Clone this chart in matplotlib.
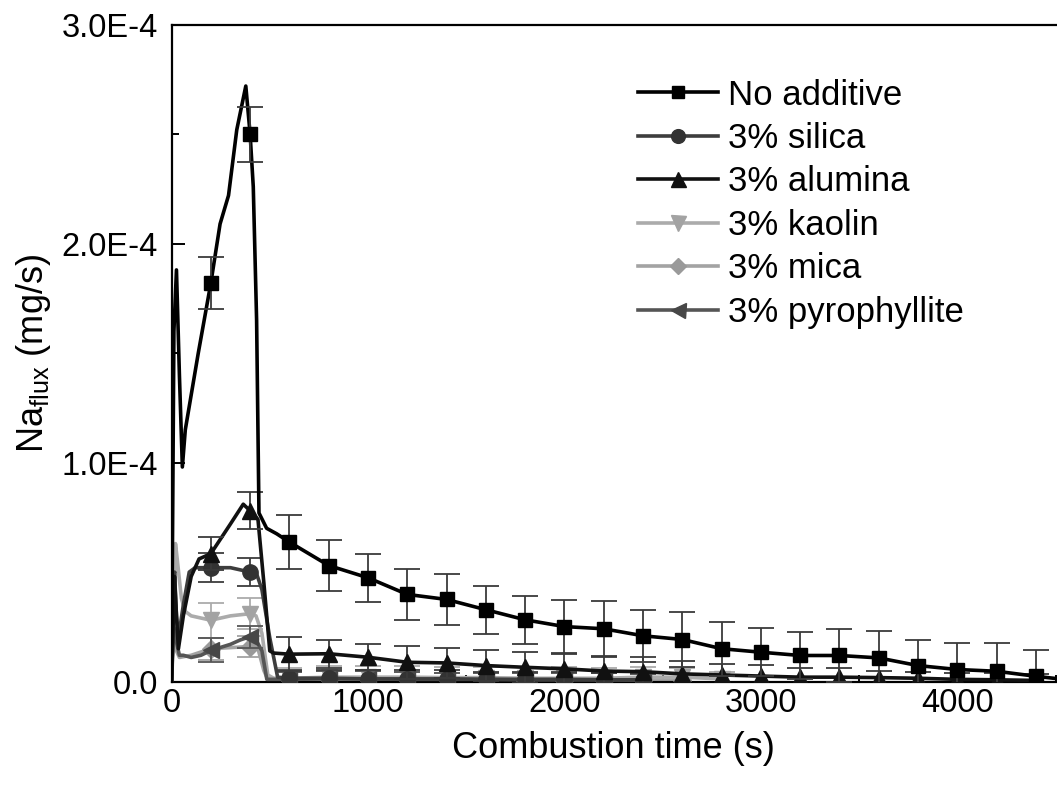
import matplotlib.pyplot as plt
from matplotlib.lines import Line2D
from matplotlib.ticker import MultipleLocator, FuncFormatter

plt.rcParams['font.family'] = ['Liberation Sans', 'DejaVu Sans']
plt.rcParams['mathtext.fontset'] = 'custom'
plt.rcParams['mathtext.rm'] = 'Liberation Sans'

# all fluxes in units of 1E-4 mg/s
# markers / error bars every 200 s
mark_t = list(range(200, 4600, 200))

# No additive: detailed start of the curve, then the 200 s points
noadd_t = [0, 12, 25, 40, 55, 70, 136, 200, 247, 290, 332, 378, 400, 416, 433, 445, 484, 535]
noadd_y = [0.0, 1.60, 1.88, 1.40, 0.98, 1.15, 1.50, 1.82, 2.09, 2.22, 2.52, 2.72, 2.50, 2.26, 1.65, 0.77, 0.70, 0.675]
noadd_m = [1.82, 2.50, 0.637, 0.53, 0.474, 0.398, 0.375, 0.328, 0.282, 0.251, 0.241,
           0.209, 0.192, 0.150, 0.134, 0.119, 0.119, 0.108, 0.073, 0.055, 0.047, 0.024]
noadd_e = [0.12, 0.125, 0.125, 0.115, 0.11, 0.115, 0.115, 0.11, 0.11, 0.12, 0.125,
           0.12, 0.125, 0.124, 0.11, 0.106, 0.119, 0.121, 0.119, 0.119, 0.127, 0.119]
noadd_tail_t = [4600]
noadd_tail_y = [0.004]

# 3% silica
sil_t = [0, 15, 25, 35, 60, 90, 120, 200, 300, 400, 430, 460, 500, 540]
sil_y = [0.0, 0.50, 0.30, 0.20, 0.35, 0.50, 0.52, 0.52, 0.52, 0.50, 0.50, 0.42, 0.20, 0.02]
sil_m = [0.52, 0.50, 0.015, 0.015, 0.012, 0.012, 0.012, 0.010, 0.010, 0.010, 0.008, 0.008]
sil_e = [0.065, 0.065, 0.04, 0.04, 0.04, 0.04, 0.04, 0.035, 0.035, 0.035, 0.03, 0.03]

# 3% alumina
alu_t = [0, 15, 25, 35, 60, 100, 140, 200, 300, 365, 400, 440, 470, 500, 520]
alu_y = [0.0, 0.48, 0.30, 0.15, 0.30, 0.48, 0.56, 0.584, 0.72, 0.81, 0.78, 0.74, 0.45, 0.14, 0.13]
alu_m = [0.584, 0.78, 0.125, 0.127, 0.111, 0.088, 0.085, 0.073, 0.065, 0.058, 0.048,
         0.045, 0.035, 0.030, 0.025, 0.020, 0.020, 0.018, 0.015, 0.010, 0.008, 0.005]
alu_e = [0.075, 0.085, 0.077, 0.065, 0.06, 0.075, 0.068, 0.07, 0.07, 0.07, 0.065,
         0.065, 0.06, 0.05, 0.05, 0.04, 0.04, 0.03, 0.03, 0.03, 0.03, 0.03]

# 3% kaolin
kao_t = [0, 10, 20, 30, 50, 70, 100, 150, 200, 300, 350, 400, 430, 460, 490, 520]
kao_y = [0.02, 0.30, 0.63, 0.55, 0.38, 0.32, 0.30, 0.29, 0.28, 0.30, 0.305, 0.31, 0.30, 0.22, 0.03, 0.015]
kao_m = [0.28, 0.31, 0.015, 0.02, 0.02, 0.02, 0.018, 0.018, 0.015, 0.015, 0.015, 0.02, 0.02, 0.012]
kao_e = [0.08, 0.07, 0.045, 0.05, 0.05, 0.05, 0.05, 0.05, 0.05, 0.05, 0.045, 0.045, 0.04, 0.03]

# 3% mica
mic_t = [0, 10, 20, 40, 100, 200, 300, 400, 440, 470, 490]
mic_y = [0.0, 0.20, 0.15, 0.11, 0.12, 0.15, 0.155, 0.16, 0.15, 0.05, 0.01]
mic_m = [0.15, 0.16, 0.01, 0.012, 0.012, 0.01, 0.01, 0.01, 0.008, 0.008, 0.008, 0.006, 0.006]
mic_e = [0.05, 0.05, 0.035, 0.035, 0.035, 0.035, 0.03, 0.03, 0.03, 0.03, 0.03, 0.03, 0.03]

# 3% pyrophyllite
pyr_t = [0, 10, 20, 40, 60, 100, 150, 200, 300, 350, 400, 430, 460, 485]
pyr_y = [0.0, 0.25, 0.20, 0.12, 0.12, 0.11, 0.12, 0.142, 0.17, 0.19, 0.205, 0.19, 0.14, 0.01]
pyr_m = [0.142, 0.205, 0.01, 0.012, 0.012, 0.01, 0.01, 0.01, 0.008, 0.008, 0.008, 0.006]
pyr_e = [0.055, 0.05, 0.035, 0.035, 0.035, 0.035, 0.03, 0.03, 0.03, 0.03, 0.03, 0.03]

series = [
    # label, detail t, detail y, marks, errs, tail t, tail y, line colour, marker colour, marker, size
    ('3% mica', mic_t, mic_y, mic_m, mic_e, [], [], '#a3a3a3', '#9a9a9a', 'D', 9),
    ('3% kaolin', kao_t, kao_y, kao_m, kao_e, [], [], '#ababab', '#a3a3a3', 'v', 12),
    ('3% pyrophyllite', pyr_t, pyr_y, pyr_m, pyr_e, [], [], '#555555', '#474747', '<', 12),
    ('3% silica', sil_t, sil_y, sil_m, sil_e, [], [], '#3d3d3d', '#333333', 'o', 11),
    ('3% alumina', alu_t, alu_y, alu_m, alu_e, [], [], '#111111', '#111111', '^', 12),
    ('No additive', noadd_t, noadd_y, noadd_m, noadd_e, noadd_tail_t, noadd_tail_y, '#000000', '#000000', 's', 10),
]

fig = plt.figure(figsize=(10.57, 7.87), dpi=100)
ax = fig.add_axes([0.1623, 0.134, 0.8363, 0.8346])

handles = {}
for i, (lab, dt, dy, mv, me, tt, ty, lc, mc, mk, ms) in enumerate(series):
    n = len(mv)
    mt = mark_t[:n]
    # line = detailed early part + 200 s points from 600 s on
    lt = dt + mt[2:] + tt
    ly = dy + mv[2:] + ty
    ax.plot(lt, [v * 1e-4 for v in ly], color=lc, lw=2.6, zorder=2 + i,
            solid_joinstyle='round')
    ax.errorbar(mt, [v * 1e-4 for v in mv], yerr=[v * 1e-4 for v in me], fmt=mk,
                color=mc, ms=ms, mec=mc, ecolor=('#3a3a3a' if lc in ('#000000', '#111111') else lc),
                elinewidth=1.3, capsize=9.5, capthick=1.3, zorder=2.5 + i)
    handles[lab] = Line2D([], [], color=lc, lw=2.6, marker=mk, ms=ms * 0.9, mfc=mc, mec=mc)

order = ['No additive', '3% silica', '3% alumina', '3% kaolin', '3% mica', '3% pyrophyllite']
ax.legend([handles[k] for k in order], order, loc='upper left', bbox_to_anchor=(0.528, 0.918),
          frameon=False, fontsize=25, handlelength=2.3, handletextpad=0.28,
          labelspacing=0.30, borderpad=0, borderaxespad=0)

ax.set_xlim(0, 4500)
ax.set_ylim(0, 3.0e-4)
ax.xaxis.set_major_locator(MultipleLocator(1000))
ax.xaxis.set_minor_locator(MultipleLocator(500))
ax.yaxis.set_major_locator(MultipleLocator(1e-4))
ax.yaxis.set_minor_locator(MultipleLocator(0.5e-4))
ax.yaxis.set_major_formatter(FuncFormatter(lambda v, p: '0.0' if abs(v) < 1e-12 else '%.1fE-4' % (v / 1e-4)))
ax.tick_params(which='both', direction='in', labelsize=23.5, width=1.4)
ax.tick_params(axis='x', pad=5)
ax.tick_params(axis='y', pad=10)
ax.tick_params(which='major', length=9)
ax.tick_params(which='minor', length=5)
ax.spines['right'].set_visible(False)
for s in ('left', 'top', 'bottom'):
    ax.spines[s].set_linewidth(1.6)

ax.set_xlabel('Combustion time (s)', fontsize=26, labelpad=8)
ax.set_ylabel(r'Na$_{\mathregular{flux}}$ (mg/s)', fontsize=26, labelpad=6)

fig.savefig('out.png', dpi=100)
